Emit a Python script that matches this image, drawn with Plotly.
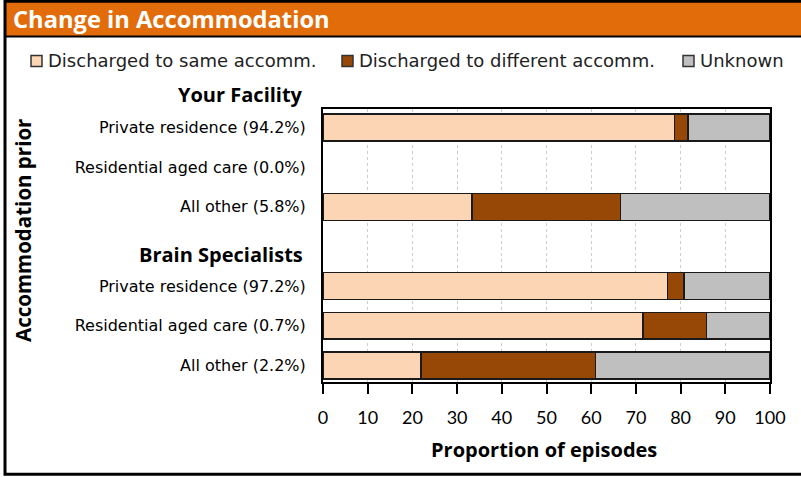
import plotly.graph_objects as go

# ---- data ----
rows = ['Private residence (94.2%)', 'Residential aged care (0.0%)', 'All other (5.8%)', '',
        'Private residence (97.2%)', 'Residential aged care (0.7%)', 'All other (2.2%)']
same_accomm = [78.6, None, 33.3, None, 77.1, 71.6, 21.9]
diff_accomm = [3.0, None, 33.3, None, 3.7, 14.2, 39.1]
unknown = [18.4, None, 33.4, None, 19.2, 14.2, 39.0]
groups = ['Your Facility', 'Brain Specialists']
x_ticks = [0, 10, 20, 30, 40, 50, 60, 70, 80, 90, 100]

W, H = 801, 477
L, R, T, B = 323, 31, 109, 95
pw, ph = W - L - R, H - T - B

def px(x):
    return (x - L) / pw

def py(y):
    return (H - B - y) / ph

LBL_FONT = 'DejaVu Sans'
HEAD_FONT = 'Open Sans'
ypos = list(range(len(rows)))

fig = go.Figure()
series = [('Discharged to same accomm.', same_accomm, '#FCD5B5'),
          ('Discharged to different accomm.', diff_accomm, '#974706'),
          ('Unknown', unknown, '#BFBFBF')]
for name, vals, col in series:
    fig.add_trace(go.Bar(y=ypos, x=vals, name=name, orientation='h', width=0.68,
                         marker=dict(color=col, line=dict(color='#1a1a1a', width=1.5))))

fig.update_layout(
    width=W, height=H, barmode='stack',
    margin=dict(l=L, r=R, t=T, b=B, pad=0, autoexpand=False),
    plot_bgcolor='white', paper_bgcolor='white',
    showlegend=False,
)
fig.update_xaxes(range=[0, 100], tickvals=x_ticks, showgrid=True, gridcolor='#cccccc',
                 griddash='3px,3px', gridwidth=1, showline=True, linecolor='black', linewidth=2,
                 mirror=True, ticks='outside', ticklen=10, tickwidth=2, tickcolor='black',
                 ticklabelstandoff=8, automargin=False,
                 tickfont=dict(family='Lato', size=18, color='black'), zeroline=False)
fig.update_yaxes(range=[6.42, -0.47], tickvals=ypos, ticktext=rows, showgrid=False,
                 showline=True, linecolor='black', linewidth=2, mirror=True, ticks='',
                 ticklabelstandoff=12, zeroline=False, automargin=False,
                 tickfont=dict(family=LBL_FONT, size=16, color='black'))

# ---- legend (drawn by hand so the swatches sit tight against the text) ----
for (name, vals, col), sx in zip(series, [31, 342, 683]):
    fig.add_shape(type='rect', xref='paper', yref='paper', x0=px(sx), x1=px(sx + 11),
                  y0=py(66.5), y1=py(55.5), fillcolor=col, line=dict(color='#333333', width=1.5))
    fig.add_annotation(text=name, xref='paper', yref='paper', x=px(sx + 15), y=py(61),
                       xanchor='left', yanchor='middle', showarrow=False,
                       font=dict(family=LBL_FONT, size=18, color='#222'))

# ---- frame & title bar ----
fig.add_shape(type='rect', xref='paper', yref='paper', x0=px(5), x1=px(806), y0=py(36), y1=py(2),
              fillcolor='#E36C0A', line_width=0, layer='below')
fig.add_shape(type='line', xref='paper', yref='paper', x0=px(5), x1=px(806), y0=py(36.5), y1=py(36.5),
              line=dict(color='black', width=2))
fig.add_shape(type='rect', xref='paper', yref='paper', x0=px(5), x1=px(806), y0=py(474.3), y1=py(1.2),
              line=dict(color='black', width=3))

fig.add_annotation(text='<b>Change in Accommodation</b>', xref='paper', yref='paper', x=px(11), y=py(19),
                   xanchor='left', yanchor='middle', showarrow=False,
                   font=dict(family=HEAD_FONT, size=23.7, color='white'))
for g, yy in zip(groups, [95, 254]):
    fig.add_annotation(text='<b>' + g + '</b>', xref='paper', yref='paper', x=px(305), y=py(yy),
                       xanchor='right', yanchor='middle', showarrow=False,
                       font=dict(family=HEAD_FONT, size=20, color='black'))
fig.add_annotation(text='<b>Accommodation prior</b>', xref='paper', yref='paper', x=px(23), y=py(231),
                   xanchor='center', yanchor='middle', textangle=-90, showarrow=False,
                   font=dict(family=HEAD_FONT, size=20.5, color='black'))
fig.add_annotation(text='<b>Proportion of episodes</b>', xref='paper', yref='paper', x=px(544), y=py(449),
                   xanchor='center', yanchor='middle', showarrow=False,
                   font=dict(family=HEAD_FONT, size=20, color='black'))

# the page's default body margin would shift the figure by 8px
fig.write_html("out.html", config={'displayModeBar': False},
               post_script="document.body.style.margin='0px';")
